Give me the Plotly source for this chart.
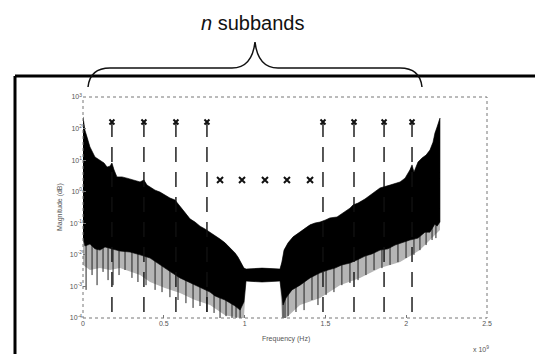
import plotly.graph_objects as go

# ---------------- data (frequency in units of 1e9 Hz, magnitude as log10) -------------
upper_left_f = [0, 0.012, 0.025, 0.043, 0.074, 0.105, 0.130, 0.149, 0.167, 0.179, 0.192, 0.210,
                0.241, 0.272, 0.309, 0.353, 0.377, 0.396, 0.415, 0.446, 0.476, 0.507, 0.538,
                0.569, 0.600, 0.631, 0.662, 0.693, 0.724, 0.755, 0.786, 0.817, 0.848, 0.879,
                0.910, 0.941, 0.959, 0.978, 0.996]
upper_left_log = [2.37, 1.95, 1.73, 1.42, 1.10, 1.00, 0.91, 0.78, 0.81, 0.91, 0.69, 0.47,
                  0.47, 0.43, 0.37, 0.31, 0.37, 0.21, 0.15, 0.05, -0.01, -0.10, -0.20,
                  -0.26, -0.45, -0.64, -0.86, -0.96, -1.09, -1.18, -1.28, -1.40, -1.50, -1.62,
                  -1.78, -1.94, -2.07, -2.23, -2.42]

band_f = [1.009, 1.108, 1.219]
band_top_log = [-2.45, -2.42, -2.45]
band_bottom_log = [-2.83, -2.86, -2.83]

upper_right_f = [1.231, 1.244, 1.269, 1.300, 1.343, 1.374, 1.405, 1.436, 1.467, 1.498,
                 1.528, 1.572, 1.621, 1.652, 1.671, 1.702, 1.745, 1.788, 1.838, 1.900,
                 1.962, 1.993, 2.023, 2.036, 2.048, 2.073, 2.098, 2.123, 2.147, 2.166,
                 2.178, 2.191, 2.203, 2.209]
upper_right_log = [-2.23, -1.85, -1.62, -1.43, -1.28, -1.15, -1.05, -0.99, -0.96, -0.90,
                   -0.83, -0.80, -0.64, -0.52, -0.42, -0.36, -0.23, -0.07, 0.12, 0.21,
                   0.31, 0.43, 0.69, 0.85, 0.62, 0.94, 1.07, 1.16, 1.32, 1.57,
                   1.86, 2.05, 2.27, 2.33]

lower_left_f = [0, 0.012, 0.043, 0.074, 0.105, 0.136, 0.167, 0.229, 0.291, 0.353, 0.415, 0.464,
                0.507, 0.551, 0.600, 0.650, 0.693, 0.743, 0.786, 0.817, 0.848, 0.879, 0.910,
                0.941, 0.972, 0.996]
lower_left_log = [-1.47, -1.72, -1.66, -1.81, -1.85, -1.75, -1.78, -1.88, -1.91, -2.00, -2.10, -2.26,
                  -2.42, -2.57, -2.73, -2.86, -2.96, -3.08, -3.18, -3.30, -3.37, -3.43, -3.53,
                  -3.62, -3.75, -3.49]

lower_right_f = [1.238, 1.256, 1.293, 1.343, 1.405, 1.467, 1.516, 1.559, 1.602, 1.652, 1.696, 1.745,
                 1.788, 1.838, 1.887, 1.931, 1.974, 2.023, 2.073, 2.116, 2.147, 2.178, 2.191, 2.209]
lower_right_log = [-3.59, -3.37, -3.11, -2.96, -2.73, -2.57, -2.48, -2.42, -2.32, -2.26, -2.16, -2.04,
                   -1.97, -1.85, -1.81, -1.69, -1.62, -1.53, -1.47, -1.28, -1.28, -1.02, -1.09, -0.96]

sparse_left_f = [0, 0.043, 0.105, 0.167, 0.229, 0.291, 0.353, 0.415, 0.507, 0.600, 0.693, 0.786,
                 0.879, 0.972, 0.996]
sparse_left_log = [-2.32, -2.48, -2.42, -2.48, -2.42, -2.54, -2.64, -2.86, -3.05, -3.21, -3.43, -3.59,
                   -3.91, -4.0, -4.0]
sparse_right_f = [1.231, 1.256, 1.343, 1.467, 1.590, 1.714, 1.838, 1.962, 2.085, 2.147, 2.209]
sparse_right_log = [-4.0, -4.0, -3.59, -3.37, -2.96, -2.73, -2.42, -2.23, -1.85, -1.53, -1.21]

spike_f = [0.019, 0.056, 0.087, 0.124, 0.155, 0.186, 0.223, 0.260, 0.303, 0.340, 0.390, 0.446,
           0.489, 0.538, 0.588, 0.637, 0.681, 0.724, 0.767, 0.811, 0.848, 0.885, 0.922, 0.947,
           0.972, 1.238, 1.250, 1.269, 1.318, 1.368, 1.417, 1.454, 1.504, 1.553, 1.602, 1.652,
           1.702, 1.751, 1.801, 1.850, 1.900, 1.949, 1.999, 2.048, 2.085, 2.123, 2.160, 2.184]
spike_top_log = [-1.37, -1.37, -1.53, -1.53, -1.53, -1.53, -1.59, -1.59, -1.62, -1.69, -1.78, -1.85,
                 -2.00, -2.23, -2.42, -2.54, -2.64, -2.80, -2.86, -2.99, -3.11, -3.18, -3.27, -3.37,
                 -3.43, -3.27, -3.11, -3.05, -2.80, -2.64, -2.48, -2.32, -2.23, -2.16, -2.04, -1.97,
                 -1.85, -1.75, -1.66, -1.59, -1.53, -1.40, -1.31, -1.21, -1.15, -0.96, -0.90, -0.74]
spike_bottom_log = [-3.11, -2.64, -2.96, -2.54, -2.80, -2.96, -2.64, -2.48, -2.73, -2.86, -2.96, -3.11,
                    -3.18, -3.34, -3.43, -3.53, -3.68, -3.62, -3.81, -3.84, -4.0, -3.94, -4.0, -4.0,
                    -4.0, -4.0, -4.0, -3.94, -3.81, -3.75, -3.43, -3.59, -3.27, -3.18, -2.96, -2.89,
                    -2.80, -2.64, -2.48, -2.42, -2.32, -2.23, -2.10, -2.00, -1.85, -1.69, -1.53, -1.47]

subband_edges_f = [0.179, 0.377, 0.575, 0.767, 1.485, 1.677, 1.863, 2.036]
subband_edge_top = 162.0
subband_edge_bottom = 1e-4
center_marks_f = [0.848, 0.984, 1.126, 1.262, 1.405]
center_mark_value = 2.35

x_tick_vals = [0, 0.5, 1, 1.5, 2, 2.5]
x_tick_text = ["0", "0.5", "1", "1.5", "2", "2.5"]
y_tick_vals = [1e-4, 1e-3, 1e-2, 1e-1, 1e0, 1e1, 1e2, 1e3]
y_tick_text = ["10<sup>-4</sup>", "10<sup>-3</sup>", "10<sup>-2</sup>", "10<sup>-1</sup>",
               "10<sup>0</sup>", "10<sup>1</sup>", "10<sup>2</sup>", "10<sup>3</sup>"]


def mag(logs):
    return [10 ** v for v in logs]


fig = go.Figure()

# sparse (grey) spike region
upper_all_f = upper_left_f + band_f + upper_right_f
upper_all_log = upper_left_log + band_top_log + upper_right_log
gx = sparse_left_f + band_f + sparse_right_f + upper_all_f[::-1]
gy = sparse_left_log + band_bottom_log + sparse_right_log + upper_all_log[::-1]
fig.add_trace(go.Scatter(x=gx, y=mag(gy), fill="toself", fillcolor="#b5b5b5",
                         line=dict(width=0), mode="lines", hoverinfo="skip", showlegend=False))

# individual spikes
sx, sy = [], []
for f, t, b in zip(spike_f, spike_top_log, spike_bottom_log):
    sx += [f, f, None]
    sy += [10 ** t, 10 ** b, None]
fig.add_trace(go.Scatter(x=sx, y=sy, mode="lines", line=dict(color="#222", width=1),
                         hoverinfo="skip", showlegend=False))

# dense black spectrum
dx = upper_all_f + lower_right_f[::-1] + band_f[::-1] + lower_left_f[::-1]
dy = upper_all_log + lower_right_log[::-1] + band_bottom_log[::-1] + lower_left_log[::-1]
fig.add_trace(go.Scatter(x=dx, y=mag(dy), fill="toself", fillcolor="#000",
                         line=dict(width=0.6, color="#000"), mode="lines",
                         hoverinfo="skip", showlegend=False))

# subband edge dashed lines
lx, ly = [], []
for f in subband_edges_f:
    lx += [f, f, None]
    ly += [subband_edge_top, subband_edge_bottom, None]
fig.add_trace(go.Scatter(x=lx, y=ly, mode="lines",
                         line=dict(color="#111", width=1.4, dash="15px,10px"),
                         hoverinfo="skip", showlegend=False))
fig.add_trace(go.Scatter(x=subband_edges_f, y=[subband_edge_top] * len(subband_edges_f),
                         mode="markers", marker=dict(symbol="x-thin", size=5,
                                                     line=dict(color="#111", width=2)),
                         hoverinfo="skip", showlegend=False))
fig.add_trace(go.Scatter(x=center_marks_f, y=[center_mark_value] * len(center_marks_f),
                         mode="markers", marker=dict(symbol="x-thin", size=6,
                                                     line=dict(color="#111", width=2)),
                         hoverinfo="skip", showlegend=False))

L, R, T, B = 83, 48, 97, 36
W, H = 535, 354
pw, ph = W - L - R, H - T - B


def px(x):
    return (x - L) / pw


def py(y):
    return (H - B - y) / ph


shapes = [
    # axes frame (dotted, scanned look)
    dict(type="rect", xref="paper", yref="paper", x0=0, x1=1, y0=0, y1=1,
         line=dict(color="#777", width=1, dash="dot")),
    # outer box (top and left edges)
    dict(type="line", xref="paper", yref="paper", x0=px(15), x1=px(540), y0=py(76), y1=py(76),
         line=dict(color="#000", width=3)),
    dict(type="line", xref="paper", yref="paper", x0=px(15), x1=px(15), y0=py(76), y1=py(360),
         line=dict(color="#000", width=3)),
]
brace = (f"M {px(88)},{py(87)} Q {px(90)},{py(68)} {px(110)},{py(68)} "
         f"L {px(232)},{py(68)} Q {px(252)},{py(68)} {px(255)},{py(42)} "
         f"Q {px(258)},{py(68)} {px(278)},{py(68)} L {px(400)},{py(68)} "
         f"Q {px(420)},{py(68)} {px(422)},{py(87)}")
shapes.append(dict(type="path", xref="paper", yref="paper", path=brace,
                   line=dict(color="#111", width=1.5)))

small = dict(family="Liberation Sans, Arial", size=7, color="#555")
annotations = [
    dict(text="<i>n</i> subbands", xref="paper", yref="paper", x=px(252), y=py(23),
         xanchor="center", yanchor="middle",
         showarrow=False, font=dict(family="Liberation Sans, Arial", size=20, color="#111")),
    dict(text="Magnitude (dB)", xref="paper", yref="paper", x=px(60), y=py(207),
         xanchor="center", yanchor="middle",
         showarrow=False, textangle=-90, font=small),
    dict(text="Frequency (Hz)", xref="paper", yref="paper", x=px(286), y=py(339),
         xanchor="center", yanchor="middle", showarrow=False, font=small),
    dict(text="x 10<sup>9</sup>", xref="paper", yref="paper", x=px(481), y=py(349),
         xanchor="center", yanchor="middle", showarrow=False, font=small),
]

fig.update_layout(
    width=W, height=H, margin=dict(l=L, r=R, t=T, b=B),
    paper_bgcolor="white", plot_bgcolor="white",
    shapes=shapes, annotations=annotations, showlegend=False,
    xaxis=dict(range=[0, 2.5], tickvals=x_tick_vals, ticktext=x_tick_text,
               ticks="inside", ticklen=3, tickcolor="#777", showgrid=False, zeroline=False,
               showline=False, tickfont=small),
    yaxis=dict(type="log", range=[-4, 3], tickvals=y_tick_vals, ticktext=y_tick_text,
               ticks="inside", ticklen=3, tickcolor="#777", showgrid=False, zeroline=False,
               showline=False, tickfont=small),
)

fig.write_html("out.html")
